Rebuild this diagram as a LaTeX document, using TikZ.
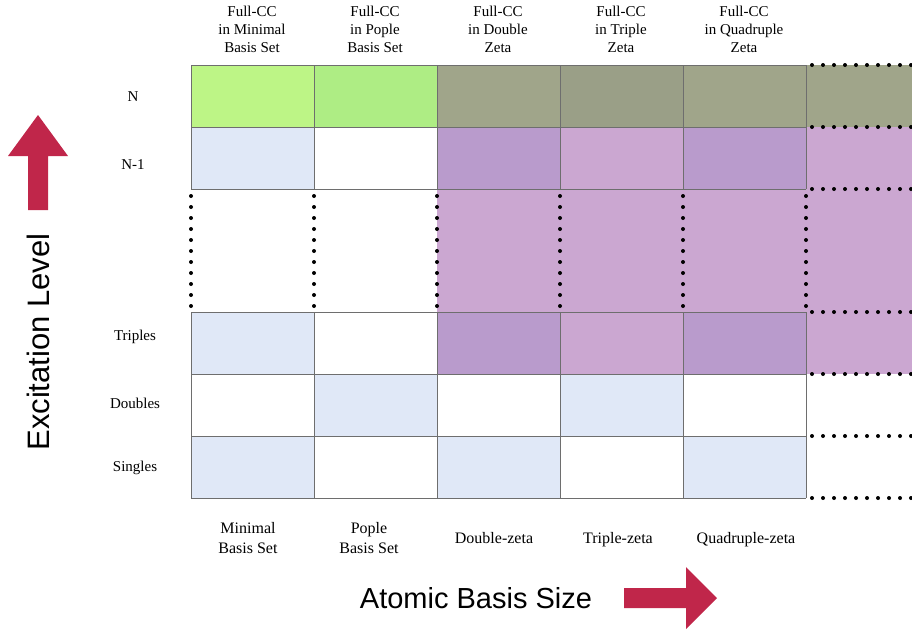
\documentclass[tikz,border=0pt]{standalone}
\usepackage{fontspec}
\setmainfont{Liberation Serif}
\newfontfamily\axisfont{Liberation Sans}
\usepackage{xcolor}
\definecolor{greenA}{HTML}{BDF586}
\definecolor{greenB}{HTML}{AEED84}
\definecolor{olive}{HTML}{A0A58A}
\definecolor{oliveD}{HTML}{9A9F87}
\definecolor{lblue}{HTML}{E0E8F7}
\definecolor{purD}{HTML}{B99BCC}
\definecolor{purL}{HTML}{CBA7D1}
\definecolor{arrowred}{HTML}{C0264A}
\definecolor{gridgrey}{HTML}{6E6E6E}

\tikzset{
  toplabel/.style={align=center,font=\fontsize{15}{18}\selectfont,inner sep=0pt},
  rowlabel/.style={font=\fontsize{15}{16}\selectfont,inner sep=0pt},
  botlabel/.style={align=center,font=\fontsize{16}{20}\selectfont,inner sep=0pt},
  gridline/.style={draw=gridgrey,line width=1pt},
  dotline/.style={line width=4pt,line cap=round,dash pattern=on 0pt off 11pt},
}

\begin{document}
\begin{tikzpicture}[x=1pt,y=-1pt]
  \useasboundingbox (0,0) rectangle (912,630);

  % cells
  \foreach \xa/\xb/\c in {191/314/greenA,314/437/greenB,437/560/olive,560/683/oliveD,683/806/olive,806/912/olive}
    \fill[\c] (\xa,65) rectangle (\xb,127);
  \foreach \xa/\xb/\c in {191/314/lblue,314/437/white,437/560/purD,560/683/purL,683/806/purD,806/912/purL}
    \fill[\c] (\xa,127) rectangle (\xb,189);
  \fill[purL] (437,189) rectangle (912,312);
  \foreach \xa/\xb/\c in {191/314/lblue,314/437/white,437/560/purD,560/683/purL,683/806/purD,806/912/purL}
    \fill[\c] (\xa,312) rectangle (\xb,374);
  \foreach \xa/\xb/\c in {191/314/white,314/437/lblue,437/560/white,560/683/lblue,683/806/white}
    \fill[\c] (\xa,374) rectangle (\xb,436);
  \foreach \xa/\xb/\c in {191/314/lblue,314/437/white,437/560/lblue,560/683/white,683/806/lblue}
    \fill[\c] (\xa,436) rectangle (\xb,498);

  % grid
  \foreach \y in {65,127,189,312,374,436,498}
    \draw[gridline] (191,\y) -- (806,\y);
  \foreach \x in {191,314,437,560,683,806} {
    \draw[gridline] (\x,65) -- (\x,189);
    \draw[gridline] (\x,312) -- (\x,498);
    \draw[dotline] (\x,196) -- (\x,312);
  }
  \foreach \y in {65,127,189,312,374,436,498}
    \draw[dotline] (812,\y) -- (912,\y);

  % column headers
  \node[toplabel] (hmin) at (252,29) {Full-CC\\in Minimal\\Basis Set};
  \node[toplabel] (hpop) at (375,29) {Full-CC\\in Pople\\Basis Set};
  \node[toplabel] (hdz) at (498,29) {Full-CC\\in Double\\Zeta};
  \node[toplabel] (htz) at (621,29) {Full-CC\\in Triple\\Zeta};
  \node[toplabel] (hqz) at (744,29) {Full-CC\\in Quadruple\\Zeta};

  % row labels
  \node[rowlabel] (rN) at (133,97) {N};
  \node[rowlabel] (rN1) at (133,165) {N-1};
  \node[rowlabel] (rT) at (135,337) {Triples};
  \node[rowlabel] (rD) at (135,403) {Doubles};
  \node[rowlabel] (rS) at (135,468) {Singles};

  % basis labels
  \node[botlabel] (bmin) at (248,538) {Minimal\\Basis Set};
  \node[botlabel] (bpop) at (369,538) {Pople\\Basis Set};
  \node[botlabel] (bdz) at (494,538) {Double-zeta};
  \node[botlabel] (btz) at (618,540) {Triple-zeta};
  \node[botlabel] (bqz) at (746,540) {Quadruple-zeta};

  % axis titles
  \node[font=\axisfont\fontsize{31}{31}\selectfont,rotate=90,inner sep=0pt] (ylab) at (38,342) {Excitation Level};
  \node[font=\axisfont\fontsize{29}{29}\selectfont,inner sep=0pt] (xlab) at (476,598) {Atomic Basis Size};

  % arrows
  \fill[arrowred] (28,210) -- (28,156) -- (8,156) -- (38,115) -- (68,156) -- (48,156) -- (48,210) -- cycle;
  \fill[arrowred] (624,588) -- (686,588) -- (686,567) -- (717,598) -- (686,629) -- (686,608) -- (624,608) -- cycle;
\end{tikzpicture}
\end{document}
